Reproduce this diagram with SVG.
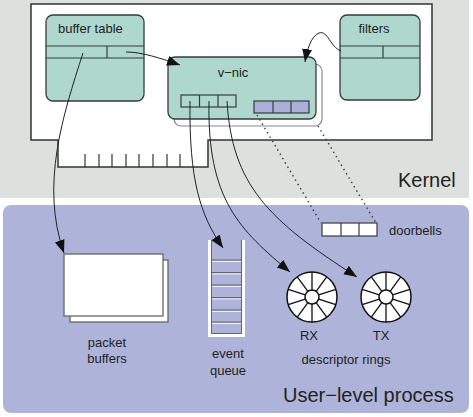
<svg xmlns="http://www.w3.org/2000/svg" width="473" height="417" viewBox="0 0 473 417">
<defs>
<style>
text{font-family:"Liberation Sans",Arial,sans-serif;fill:#222;font-size:13px}
.big{font-size:20px}
.node{fill:#aed8ce;stroke:#3a3a3a;stroke-width:1.3}
.ln{stroke:#3a3a3a;stroke-width:1.2;fill:none}
.conn{fill:none;stroke:#222;stroke-width:1}
.dot{fill:none;stroke:#333;stroke-width:1.4;stroke-dasharray:1.4 3.6}
.ring{fill:#fff;stroke:#111;stroke-width:1.5}
.cellb{fill:#aab0da;stroke:#3a3a3a;stroke-width:1.2}
.cellw{fill:#fff;stroke:#3a3a3a;stroke-width:1.2}
</style>
<marker id="arr" markerUnits="userSpaceOnUse" markerWidth="14" markerHeight="11" refX="13" refY="5" orient="auto" viewBox="0 0 14 11">
<path d="M0,0 L13,5 L0,10 Z" fill="#111"/>
</marker>
<g id="spokes">
<circle r="25" class="ring"/>
<circle r="7" class="ring"/>
<g stroke="#111" stroke-width="1.3">
<line x1="0" y1="-7" x2="0" y2="-25"/>
<line x1="0" y1="-7" x2="0" y2="-25" transform="rotate(36)"/>
<line x1="0" y1="-7" x2="0" y2="-25" transform="rotate(72)"/>
<line x1="0" y1="-7" x2="0" y2="-25" transform="rotate(108)"/>
<line x1="0" y1="-7" x2="0" y2="-25" transform="rotate(144)"/>
<line x1="0" y1="-7" x2="0" y2="-25" transform="rotate(180)"/>
<line x1="0" y1="-7" x2="0" y2="-25" transform="rotate(216)"/>
<line x1="0" y1="-7" x2="0" y2="-25" transform="rotate(252)"/>
<line x1="0" y1="-7" x2="0" y2="-25" transform="rotate(288)"/>
<line x1="0" y1="-7" x2="0" y2="-25" transform="rotate(324)"/>
</g>
</g>
</defs>
<rect width="473" height="417" fill="#fff"/>
<g id="kernel">
<rect x="0" y="0" width="469" height="198" fill="#dde1dd"/>
<text x="398" y="187" class="big">Kernel</text>
</g>
<g id="userlevel">
<rect x="3" y="205" width="466" height="208" rx="8" fill="#aeb4d9"/>
<text x="283" y="402" class="big">User−level process</text>
</g>
<g id="card">
<path d="M31,4 H432 V140 H208 V167 H58 V140 H31 Z" fill="#fff" stroke="#333" stroke-width="1.5"/>
<g stroke="#333" stroke-width="1.2">
<line x1="85" y1="154" x2="85" y2="167"/><line x1="99" y1="154" x2="99" y2="167"/>
<line x1="112" y1="154" x2="112" y2="167"/><line x1="126" y1="154" x2="126" y2="167"/>
<line x1="139" y1="154" x2="139" y2="167"/><line x1="153" y1="154" x2="153" y2="167"/>
<line x1="167" y1="154" x2="167" y2="167"/><line x1="180" y1="154" x2="180" y2="167"/>
</g>
</g>
<g id="buffer-table">
<rect x="46" y="15" width="98" height="86" rx="7" class="node"/>
<path d="M46,46 H144 M46,58 H144 M107,46 V58" class="ln"/>
<text x="58" y="33">buffer table</text>
</g>
<g id="filters">
<rect x="340" y="15" width="80" height="85" rx="7" class="node"/>
<path d="M340,46 H420 M340,58 H420 M383,46 V58" class="ln"/>
<text x="374" y="33" text-anchor="middle">filters</text>
</g>
<g id="v-nic">
<rect x="174" y="64" width="148" height="62" rx="7" fill="#fff" stroke="#888" stroke-width="1.2"/>
<rect x="168" y="57" width="148" height="62" rx="7" class="node"/>
<text x="233" y="77" text-anchor="middle">v−nic</text>
<rect x="181" y="95" width="55" height="12" fill="#aed8ce" stroke="#3a3a3a" stroke-width="1.2"/>
<path d="M199.5,95 V107 M218,95 V107" class="ln"/>
<rect x="254" y="101" width="55" height="12" class="cellb"/>
<path d="M273,101 V113 M291,101 V113" class="ln"/>
</g>
<g id="packet-buffers">
<rect x="70" y="260" width="98" height="62" fill="#fff" stroke="#666" stroke-width="1.3"/>
<rect x="64" y="254" width="99" height="62" fill="#fff" stroke="#666" stroke-width="1.3"/>
<text x="107" y="347" text-anchor="middle">packet</text>
<text x="107" y="363" text-anchor="middle">buffers</text>
</g>
<g id="event-queue">
<path d="M209.5,240 V335.5 H243.5 V240" fill="none" stroke="#fff" stroke-width="3"/>
<path d="M211.5,240 V333.5 H241.5 V240" fill="none" stroke="#666" stroke-width="1"/>
<g stroke="#666" stroke-width="1">
<line x1="212" y1="260" x2="241" y2="260"/><line x1="212" y1="272.5" x2="241" y2="272.5"/>
<line x1="212" y1="285" x2="241" y2="285"/><line x1="212" y1="297.5" x2="241" y2="297.5"/>
<line x1="212" y1="310" x2="241" y2="310"/><line x1="212" y1="322" x2="241" y2="322"/>
</g>
<g stroke="#fff" stroke-width="1" opacity="0.8">
<line x1="212" y1="261.5" x2="241" y2="261.5"/><line x1="212" y1="274" x2="241" y2="274"/>
<line x1="212" y1="286.5" x2="241" y2="286.5"/><line x1="212" y1="299" x2="241" y2="299"/>
<line x1="212" y1="311.5" x2="241" y2="311.5"/><line x1="212" y1="323.5" x2="241" y2="323.5"/>
</g>
<text x="228" y="358" text-anchor="middle">event</text>
<text x="228" y="375" text-anchor="middle">queue</text>
</g>
<g id="doorbells">
<rect x="322" y="223" width="55" height="13" class="cellw"/>
<path d="M341,223 V236 M359,223 V236" class="ln"/>
<text x="389" y="235">doorbells</text>
</g>
<g id="rx">
<use href="#spokes" x="312" y="297"/>
<text x="309" y="340" text-anchor="middle">RX</text>
</g>
<g id="tx">
<use href="#spokes" x="386" y="297"/>
<text x="381" y="340" text-anchor="middle">TX</text>
</g>
<g id="descriptor-rings-label">
<text x="346" y="364" text-anchor="middle">descriptor rings</text>
</g>
<g id="connectors">
<path class="conn" marker-end="url(#arr)" d="M126,52 C142,52 160,58 180,65"/>
<path class="conn" marker-end="url(#arr)" d="M341,51 C330,47 328,30 319,33 C311,36 307,50 305,62"/>
<path class="conn" marker-end="url(#arr)" d="M83,53 C63,115 40,185 64,253"/>
<path class="conn" marker-end="url(#arr)" d="M190,101 C189,180 200,215 223,248"/>
<path class="conn" marker-end="url(#arr)" d="M209,101 C207,200 240,230 290,272"/>
<path class="conn" marker-end="url(#arr)" d="M227,101 C232,185 268,220 357,277"/>
<path class="dot" d="M257,115 L321,223"/>
<path class="dot" d="M318,126 L376,223"/>
</g>
</svg>
